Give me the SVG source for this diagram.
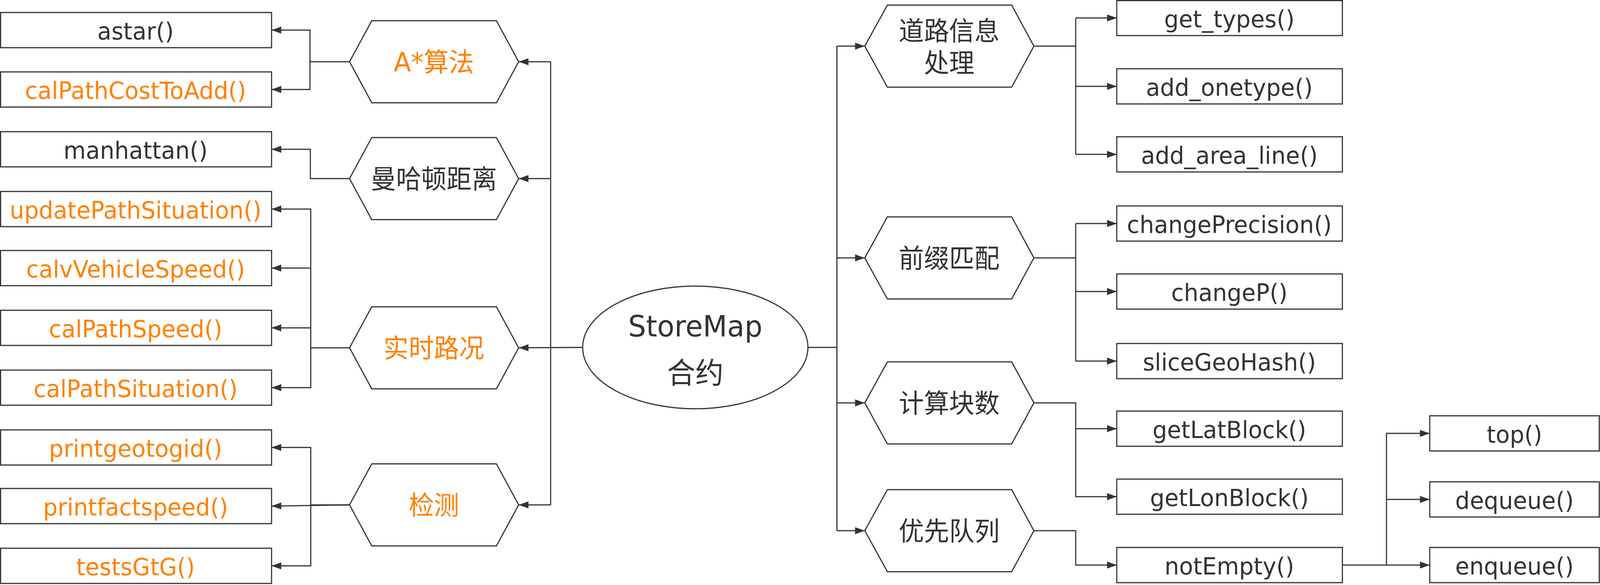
<svg xmlns="http://www.w3.org/2000/svg" width="4248" height="1497" viewBox="0 0 4248 1497">
<style>
.bg{fill:#ffffff}
.box{fill:#ffffff;stroke:#333333;stroke-width:3}
.hex{fill:#ffffff;stroke:#333333;stroke-width:3}
.ell{fill:#ffffff;stroke:#333333;stroke-width:3}
.t{font-family:"DejaVu Sans","Noto Sans CJK SC",sans-serif;text-anchor:middle;fill:#333333}
.o{fill:#FF8000}
.bt{font-size:61px}
.ht{font-size:67px}
.ct{font-size:75px}
.ln{fill:none;stroke:#333333;stroke-width:3}
.a{marker-end:url(#arr)}
</style>
<defs>
<marker id="arr" viewBox="0 0 26 18" markerWidth="26" markerHeight="18" markerUnits="userSpaceOnUse" refX="26" refY="9" orient="auto">
<path d="M0,0 L26,9 L0,18 z" fill="#333333"/>
</marker>
</defs>
<rect class="bg" x="0" y="0" width="4248" height="1497"/>
<g id="diagram" transform="scale(0.96422 1)">
<g id="connectors">
<path class="ln a" d="M1547,889 L1377,890"/>
<path class="ln" d="M1462,158 L1462,1292"/>
<path class="ln a" d="M1462,158 L1377,158"/>
<path class="ln a" d="M1462,457 L1377,457"/>
<path class="ln a" d="M1462,1292 L1377,1292"/>
<path class="ln a" d="M928,158 L823,158 L823,77 L721,77"/>
<path class="ln a" d="M823,158 L823,229 L721,229"/>
<path class="ln a" d="M928,457 L824,457 L824,382 L721,382"/>
<path class="ln a" d="M928,890 L825,890 L825,535 L721,535"/>
<path class="ln a" d="M825,686 L721,686"/>
<path class="ln a" d="M825,839 L721,839"/>
<path class="ln a" d="M825,890 L825,992 L721,992"/>
<path class="ln a" d="M928,1292 L825,1292 L825,1145 L721,1145"/>
<path class="ln a" d="M928,1292 L721,1295"/>
<path class="ln a" d="M825,1292 L825,1448 L721,1448"/>
<path class="ln" d="M2145,889 L2222,889"/>
<path class="ln" d="M2222,118 L2222,1358"/>
<path class="ln a" d="M2222,118 L2296,118"/>
<path class="ln a" d="M2222,660 L2296,660"/>
<path class="ln a" d="M2222,1031 L2296,1031"/>
<path class="ln a" d="M2222,1358 L2296,1358"/>
<path class="ln" d="M2745,118 L2856,118"/>
<path class="ln" d="M2856,46 L2856,395"/>
<path class="ln a" d="M2856,46 L2965,46"/>
<path class="ln a" d="M2856,221 L2965,221"/>
<path class="ln a" d="M2856,395 L2965,395"/>
<path class="ln" d="M2745,660 L2856,660"/>
<path class="ln" d="M2856,572 L2856,924"/>
<path class="ln a" d="M2856,572 L2965,572"/>
<path class="ln a" d="M2856,746 L2965,746"/>
<path class="ln a" d="M2856,924 L2965,924"/>
<path class="ln a" d="M2745,1031 L2856,1031 L2856,1097 L2965,1097"/>
<path class="ln a" d="M2856,1097 L2856,1271 L2965,1271"/>
<path class="ln a" d="M2745,1358 L2856,1358 L2856,1446 L2965,1446"/>
<path class="ln a" d="M3564,1446 L3681,1446 L3681,1109 L3796,1109"/>
<path class="ln a" d="M3681,1278 L3796,1278"/>
<path class="ln a" d="M3681,1446 L3796,1446"/>
</g>

<g id="center">
<ellipse class="ell" cx="1846" cy="889" rx="299" ry="157"/>
<text class="t ct" x="1846" y="861">StoreMap</text>
<text class="t ct" x="1846" y="981">合约</text>
</g>

<g id="hex-astar">
<polygon class="hex" points="928,158 987,53 1318,53 1377,158 1318,263 987,263"/>
<text class="t ht o" x="1152" y="183">A*算法</text>
</g>
<g id="hex-manhattan">
<polygon class="hex" points="928,457 987,352 1318,352 1377,457 1318,562 987,562"/>
<text class="t ht" x="1152" y="482">曼哈顿距离</text>
</g>
<g id="hex-realtime">
<polygon class="hex" points="928,890 987,785 1318,785 1377,890 1318,995 987,995"/>
<text class="t ht o" x="1152" y="915">实时路况</text>
</g>
<g id="hex-detect">
<polygon class="hex" points="928,1292 987,1187 1318,1187 1377,1292 1318,1397 987,1397"/>
<text class="t ht o" x="1152" y="1317">检测</text>
</g>

<g id="box-astar"><rect class="box" x="1.5" y="32" width="719.5" height="90"/><text class="t bt" x="360" y="101">astar()</text></g>
<g id="box-calPathCostToAdd"><rect class="box" x="1.5" y="184" width="719.5" height="90"/><text class="t bt o" x="360" y="253">calPathCostToAdd()</text></g>
<g id="box-manhattan"><rect class="box" x="1.5" y="337" width="719.5" height="90"/><text class="t bt" x="360" y="406">manhattan()</text></g>
<g id="box-updatePathSituation"><rect class="box" x="1.5" y="490" width="719.5" height="90"/><text class="t bt o" x="360" y="559">updatePathSituation()</text></g>
<g id="box-calvVehicleSpeed"><rect class="box" x="1.5" y="641" width="719.5" height="90"/><text class="t bt o" x="360" y="710">calvVehicleSpeed()</text></g>
<g id="box-calPathSpeed"><rect class="box" x="1.5" y="794" width="719.5" height="90"/><text class="t bt o" x="360" y="863">calPathSpeed()</text></g>
<g id="box-calPathSituation"><rect class="box" x="1.5" y="947" width="719.5" height="90"/><text class="t bt o" x="360" y="1016">calPathSituation()</text></g>
<g id="box-printgeotogid"><rect class="box" x="1.5" y="1100" width="719.5" height="90"/><text class="t bt o" x="360" y="1169">printgeotogid()</text></g>
<g id="box-printfactspeed"><rect class="box" x="1.5" y="1250" width="719.5" height="90"/><text class="t bt o" x="360" y="1319">printfactspeed()</text></g>
<g id="box-testsGtG"><rect class="box" x="1.5" y="1403" width="719.5" height="90"/><text class="t bt o" x="360" y="1472">testsGtG()</text></g>

<g id="hex-road">
<polygon class="hex" points="2296,118 2356,13 2686,13 2745,118 2686,223 2356,223"/>
<text class="t ht" x="2520" y="103">道路信息</text>
<text class="t ht" x="2520" y="185">处理</text>
</g>
<g id="hex-prefix">
<polygon class="hex" points="2296,660 2356,555 2686,555 2745,660 2686,765 2356,765"/>
<text class="t ht" x="2520" y="685">前缀匹配</text>
</g>
<g id="hex-blocks">
<polygon class="hex" points="2296,1031 2356,926 2686,926 2745,1031 2686,1136 2356,1136"/>
<text class="t ht" x="2520" y="1056">计算块数</text>
</g>
<g id="hex-pq">
<polygon class="hex" points="2296,1358 2356,1253 2686,1253 2745,1358 2686,1463 2356,1463"/>
<text class="t ht" x="2520" y="1383">优先队列</text>
</g>

<g id="box-get_types"><rect class="box" x="2965" y="1.5" width="599" height="89.5"/><text class="t bt" x="3264" y="70">get_types()</text></g>
<g id="box-add_onetype"><rect class="box" x="2965" y="176" width="599" height="90"/><text class="t bt" x="3264" y="245">add_onetype()</text></g>
<g id="box-add_area_line"><rect class="box" x="2965" y="350" width="599" height="90"/><text class="t bt" x="3264" y="419">add_area_line()</text></g>
<g id="box-changePrecision"><rect class="box" x="2965" y="527" width="599" height="90"/><text class="t bt" x="3264" y="596">changePrecision()</text></g>
<g id="box-changeP"><rect class="box" x="2965" y="701" width="599" height="90"/><text class="t bt" x="3264" y="770">changeP()</text></g>
<g id="box-sliceGeoHash"><rect class="box" x="2965" y="879" width="599" height="90"/><text class="t bt" x="3264" y="948">sliceGeoHash()</text></g>
<g id="box-getLatBlock"><rect class="box" x="2965" y="1052" width="599" height="90"/><text class="t bt" x="3264" y="1121">getLatBlock()</text></g>
<g id="box-getLonBlock"><rect class="box" x="2965" y="1226" width="599" height="90"/><text class="t bt" x="3264" y="1295">getLonBlock()</text></g>
<g id="box-notEmpty"><rect class="box" x="2965" y="1401" width="599" height="90"/><text class="t bt" x="3264" y="1470">notEmpty()</text></g>

<g id="box-top"><rect class="box" x="3796" y="1064" width="450" height="90"/><text class="t bt" x="4021" y="1133">top()</text></g>
<g id="box-dequeue"><rect class="box" x="3796" y="1233" width="450" height="90"/><text class="t bt" x="4021" y="1302">dequeue()</text></g>
<g id="box-enqueue"><rect class="box" x="3796" y="1401" width="450" height="90"/><text class="t bt" x="4021" y="1470">enqueue()</text></g>
</g>
</svg>
